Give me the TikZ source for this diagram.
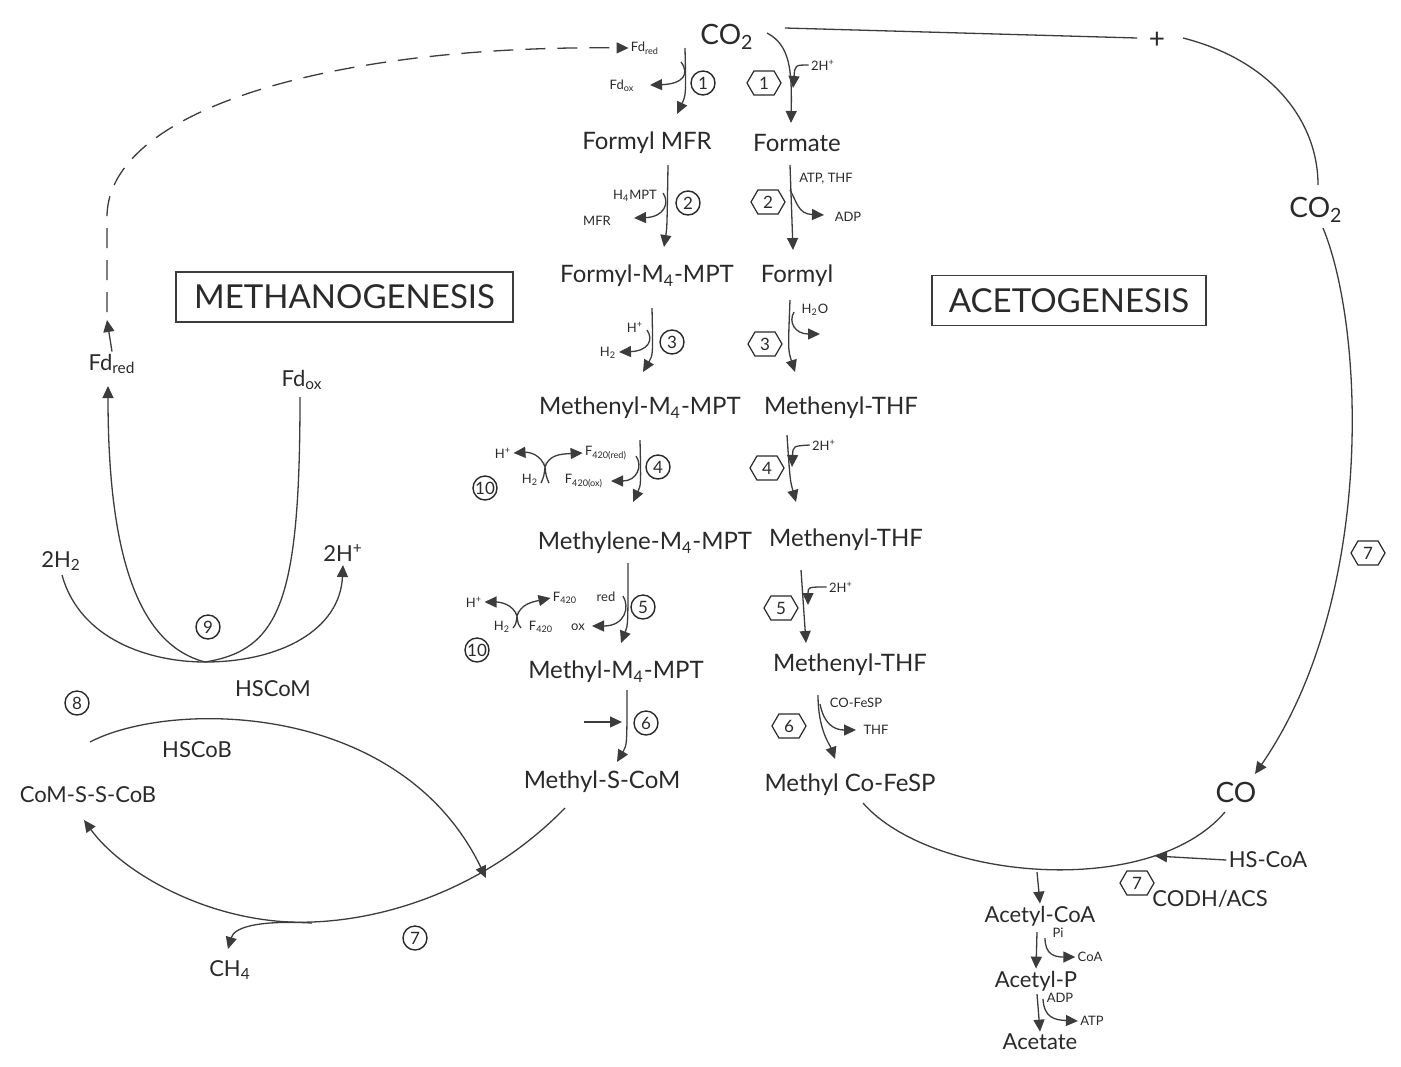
\documentclass[tikz,border=0pt]{standalone}
\usepackage{fontspec}
\setmainfont{Lato}
\usetikzlibrary{arrows.meta,shapes.symbols,shapes.geometric}
\definecolor{ink}{HTML}{2A2A2A}
\definecolor{linec}{HTML}{3C3C3C}
\newcommand\dn[1]{\textsubscript{#1}}
\newcommand\up[1]{\textsuperscript{#1}}
\begin{document}
\begin{tikzpicture}[x=0.5pt,y=-0.5pt,
  every node/.style={text=ink, inner sep=1pt},
  main/.style={font=\fontsize{12}{14}\selectfont},
  mid/.style={font=\fontsize{11}{13}\selectfont},
  big/.style={font=\fontsize{14}{16}\selectfont},
  sm/.style={font=\fontsize{6.5}{7.5}\selectfont},
  titlebox/.style={draw=linec, line width=0.6pt, font=\fontsize{16.5}{20}\selectfont, minimum height=25pt, inner sep=0pt},
  circ/.style={draw=ink, circle, minimum size=12pt, inner sep=0pt, line width=0.7pt, font=\fontsize{8.5}{10}\selectfont},
  hexa/.style={draw=ink, signal, signal to=west and east, signal pointer angle=120, minimum width=17pt, minimum height=12pt, inner sep=0pt, line width=0.6pt, font=\fontsize{8.5}{10}\selectfont},
  wire/.style={draw=linec, line width=0.65pt},
  ar/.style={wire, -{Triangle[length=6pt,width=5.5pt]}},
]
\useasboundingbox[fill=white] (0,0) rectangle (1401,1066);

% ---------- top ----------
\node[big] (co2) at (727,37) {CO\dn{2}};
\node[sm] (fdred1) at (645,48) {Fd\dn{red}};
\node[sm] (fdox1) at (622,86) {Fd\dn{ox}};
\node[circ] (c1) at (703,83) {1};
\node[hexa] (h1) at (764,83) {1};
\node[sm] (h2p1) at (823,65) {2H\up{+}};

% ---------- columns ----------
\node[main] (fmfr) at (647,143) {Formyl MFR};
\node[main] (formate) at (797,143) {Formate};
\node[sm] (h4mpt) at (635,196) {H\dn{4}MPT};
\node[sm] (mfr) at (597,221) {MFR};
\node[circ] (c2) at (688,203) {2};
\node[hexa] (h2) at (768,202) {2};
\node[sm] (atp) at (826,179) {ATP, THF};
\node[sm] (adp) at (848,217) {ADP};

\node[main] (fm4) at (647,276) {Formyl-M\dn{4}-MPT};
\node[main] (formyl) at (797,276) {Formyl};
\node[sm] (hp3) at (635,327) {H\up{+}};
\node[sm] (h23) at (608,353) {H\dn{2}};
\node[circ] (c3) at (672,342) {3};
\node[hexa] (h3) at (765,344) {3};
\node[sm] (h2o) at (815,310) {H\dn{2}O};

\node[main] (mem4) at (640,408) {Methenyl-M\dn{4}-MPT};
\node[main] (mthf1) at (841,408) {Methenyl-THF};
\node[sm] (f420r) at (606,453) {F\dn{420(red)}};
\node[sm] (f420o) at (584,481) {F\dn{420(ox)}};
\node[circ] (c4) at (658,467) {4};
\node[hexa] (h4) at (767,468) {4};
\node[sm] (h2p4) at (824,445) {2H\up{+}};
\node[sm] (hp10a) at (503,453) {H\up{+}};
\node[sm] (h210a) at (530,480) {H\dn{2}};
\node[circ] (c10a) at (485,488) {10};

\node[main] (mlm4) at (645,543) {Methylene-M\dn{4}-MPT};
\node[main] (mthf2) at (846,540) {Methenyl-THF};
\node[sm] (red5) at (606,597) {red};
\node[sm] (ox5) at (578,627) {ox};
\node[circ] (c5) at (643,607) {5};
\node[hexa] (h5) at (781,608) {5};
\node[sm] (h2p5) at (841,587) {2H\up{+}};
\node[sm] (hp10b) at (474,602) {H\up{+}};
\node[sm] (f420c) at (565,598) {F\dn{420}};
\node[sm] (h210b) at (502,627) {H\dn{2}};
\node[sm] (f420d) at (541,627) {F\dn{420}};
\node[circ] (c10b) at (477,650) {10};

\node[main] (mm4) at (616,672) {Methyl-M\dn{4}-MPT};
\node[main] (mthf3) at (850,665) {Methenyl-THF};
\node[circ] (c6) at (646,723) {6};
\node[hexa] (h6) at (789,726) {6};
\node[sm] (cofesp) at (856,703) {CO-FeSP};
\node[sm] (thf6) at (876,730) {THF};
\node[main] (mscom) at (602,782) {Methyl-S-CoM};
\node[main] (mcofesp) at (850,785) {Methyl Co-FeSP};

% ---------- titles ----------
\node[titlebox, minimum width=168.5pt] (tmeth) at (344.5,297) {METHANOGENESIS};
\node[titlebox, minimum width=137pt] (tacet) at (1069,300.5) {ACETOGENESIS};

% ---------- right ----------
\node[big] (plus) at (1157,40) {+};
\node[big] (co2r) at (1316,210) {CO\dn{2}};
\node[hexa] (h7a) at (1368,553) {7};
\node[big] (co) at (1236,792) {CO};
\node[mid] (hscoa) at (1268,860) {HS-CoA};
\node[hexa] (h7b) at (1137,883) {7};
\node[mid] (codh) at (1210,899) {CODH/ACS};
\node[mid] (acoa) at (1040,916) {Acetyl-CoA};
\node[sm] (pi) at (1058,933) {Pi};
\node[sm] (coa) at (1090,957) {CoA};
\node[mid] (acp) at (1036,981) {Acetyl-P};
\node[sm] (adp2) at (1060,998) {ADP};
\node[sm] (atp2) at (1092,1021) {ATP};
\node[mid] (acet) at (1040,1042) {Acetate};

% ---------- left ----------
\node[mid] (fdred2) at (112,364) {Fd\dn{red}};
\node[mid] (fdox2) at (302,380) {Fd\dn{ox}};
\node[mid] (h2l) at (61,561) {2H\dn{2}};
\node[mid] (hpl) at (343,553) {2H\up{+}};
\node[circ] (c9) at (208,627) {9};
\node[mid] (hscom) at (273,689) {HSCoM};
\node[circ] (c8) at (77,703) {8};
\node[mid] (hscob) at (197,750) {HSCoB};
\node[mid] (cmsscb) at (88,795) {CoM-S-S-CoB};
\node[mid] (ch4) at (230,970) {CH\dn{4}};
\node[circ] (c7) at (415,938) {7};

% ---------- coordinates ----------
\coordinate (a1s) at (685,48);   \coordinate (a1e) at (677,114);
\coordinate (b1s) at (681,62);   \coordinate (b1e) at (650,85);
\coordinate (a2s) at (668,165);  \coordinate (a2e) at (664,247);
\coordinate (b2s) at (663,193);  \coordinate (b2e) at (634,218);
\coordinate (a3s) at (652,308);  \coordinate (a3e) at (643,372);
\coordinate (b3s) at (647,330);  \coordinate (b3e) at (619,352);
\coordinate (a4s) at (640,440);  \coordinate (a4e) at (633,502);
\coordinate (b4s) at (636,456);  \coordinate (b4e) at (611,481);
\coordinate (a5s) at (628,563);  \coordinate (a5e) at (621,643);
\coordinate (b5s) at (623,596);  \coordinate (b5e) at (592,626);
\coordinate (a6s) at (627,690);  \coordinate (a6e) at (617,762);
\coordinate (b6s) at (584,722);  \coordinate (b6e) at (622,722);

\coordinate (p1s) at (767,33);   \coordinate (p1e) at (791,123);
\coordinate (q1e) at (793,88);
\coordinate (p2s) at (790,165);  \coordinate (p2e) at (793,250);
\coordinate (q2s) at (790,190);  \coordinate (q2e) at (824,215);
\coordinate (p3s) at (790,300);  \coordinate (p3e) at (795,372);
\coordinate (q3s) at (794,312);  \coordinate (q3e) at (820,334);
\coordinate (p4s) at (787,435);  \coordinate (p4e) at (796,502);
\coordinate (q4e) at (792,467);
\coordinate (p5s) at (801,570);  \coordinate (p5e) at (806,643);
\coordinate (q5e) at (808,605);
\coordinate (p6s) at (818,695);  \coordinate (p6e) at (835,759);
\coordinate (q6s) at (820,704);  \coordinate (q6e) at (856,730);

\coordinate (y1) at (545,467);   \coordinate (y1a) at (541,483); \coordinate (y1b) at (549,483);
\coordinate (y2) at (517,616);   \coordinate (y2a) at (513,628); \coordinate (y2b) at (521,628);

% ---------- methanogenesis reactions ----------
\draw[ar] (a1s) .. controls (686,95) .. (a1e);
\draw[ar] (b1s) .. controls (690,74) and (683,84) .. (b1e);
\draw[ar] (a2s) .. controls (667,228) .. (a2e);
\draw[ar] (b2s) .. controls (670,203) and (664,217) .. (b2e);
\draw[ar] (a3s) .. controls (653,355) .. (a3e);
\draw[ar] (b3s) .. controls (654,340) and (648,351) .. (b3e);
\draw[ar] (a4s) .. controls (641,485) .. (a4e);
\draw[ar] (b4s) .. controls (643,466) and (637,481) .. (b4e);
\draw[ar] (a5s) .. controls (628,625) .. (a5e);
\draw[ar] (b5s) .. controls (630,607) and (625,626) .. (b5e);
\draw[ar] (a6s) .. controls (627,745) .. (a6e);
\draw[ar] (b6s) -- (b6e);

% reaction 10 junctions
\draw[wire] (y1a) .. controls (544,476) .. (y1) .. controls (546,476) .. (y1b);
\draw[ar] (y1) .. controls (541,455) and (530,452) .. (hp10a.east);
\draw[ar] (y1) .. controls (549,455) and (560,454) .. (f420r.west);
\draw[wire] (y2a) .. controls (516,624) .. (y2) .. controls (518,624) .. (y2b);
\draw[ar] (y2) .. controls (513,604) and (500,602) .. (hp10b.east);
\draw[ar] (y2) .. controls (521,604) and (532,602) .. (f420c.west);

% ---------- acetogenesis reactions ----------
\draw[ar] (p1s) .. controls (790,45) and (792,70) .. (p1e);
\draw[ar] (h2p1.west) .. controls (795,65) .. (q1e);
\draw[ar] (p2s) -- (p2e);
\draw[ar] (q2s) .. controls (797,202) and (798,214) .. (q2e);
\draw[ar] (p3s) .. controls (788,350) .. (p3e);
\draw[ar] (q3s) .. controls (788,322) and (795,334) .. (q3e);
\draw[ar] (p4s) .. controls (790,480) .. (p4e);
\draw[ar] (h2p4.west) .. controls (793,446) .. (q4e);
\draw[ar] (p5s) -- (p5e);
\draw[ar] (h2p5.west) .. controls (808,587) .. (q5e);
\draw[ar] (p6s) .. controls (818,730) and (830,745) .. (p6e);
\draw[ar] (q6s) .. controls (824,724) and (834,730) .. (q6e);

% ---------- CO2 / CO loop ----------
\coordinate (r0) at (785,28);  \coordinate (r1) at (1137,38);
\coordinate (r2) at (1183,38); \coordinate (r3) at (1318,185);
\coordinate (r4) at (1323,228); \coordinate (r5) at (1255,774);
\draw[wire] (r0) -- (r1);
\draw[wire] (r2) .. controls (1270,60) and (1318,120) .. (r3);
\draw[ar] (r4) .. controls (1365,330) and (1375,600) .. (r5);

\coordinate (s0) at (863,803); \coordinate (s1) at (1225,812);
\coordinate (sb) at (1037,872); \coordinate (sh) at (1155,856);
\draw[wire] (s0) .. controls (930,880) and (1150,900) .. (s1);
\draw[ar] (hscoa.west) -- (sh);
\draw[ar] (sb) -- (acoa.north);
\coordinate (t1) at (1037,932); \coordinate (t1s) at (1045,938);
\draw[ar] (t1) -- (acp.north);
\draw[ar] (t1s) .. controls (1045,955) and (1055,957) .. (coa.west);
\coordinate (t2) at (1037,994); \coordinate (t2s) at (1043,999);
\draw[ar] (t2) -- (acet.north);
\draw[ar] (t2s) .. controls (1044,1018) and (1055,1020) .. (atp2.west);

% ---------- left cycle ----------
\coordinate (u) at (205,662);
\coordinate (fdt) at (108,386); \coordinate (fdo) at (300,397);
\coordinate (h2s) at (62,575);  \coordinate (hpe) at (343,565);
\draw[ar] (u) .. controls (140,645) and (108,560) .. (fdt);
\draw[wire] (fdo) .. controls (300,600) and (280,650) .. (u);
\draw[wire] (h2s) .. controls (80,640) and (150,662) .. (u);
\draw[ar] (u) .. controls (280,662) and (340,630) .. (hpe);

\coordinate (d0) at (107,320);
\draw[ar] (fdred2.north) -- (d0);
\draw[wire, dash pattern=on 10pt off 6pt, -{Triangle[length=6pt,width=5.5pt]}] (107,312) -- (107,215) .. controls (110,110) and (330,45) .. (fdred1.west);

\coordinate (k0) at (90,742); \coordinate (k1) at (486,878);
\draw[ar] (k0) .. controls (170,700) and (400,700) .. (k1);
\coordinate (m0) at (565,808); \coordinate (mb) at (290,922); \coordinate (m1) at (84,820);
\draw[ar] (m0) .. controls (480,895) and (370,925) .. (mb) .. controls (200,918) and (120,870) .. (m1);
\coordinate (ch0) at (312,923); \coordinate (ch1) at (228,949);
\draw[ar] (ch0) .. controls (255,920) and (234,928) .. (ch1);
\end{tikzpicture}
\end{document}
